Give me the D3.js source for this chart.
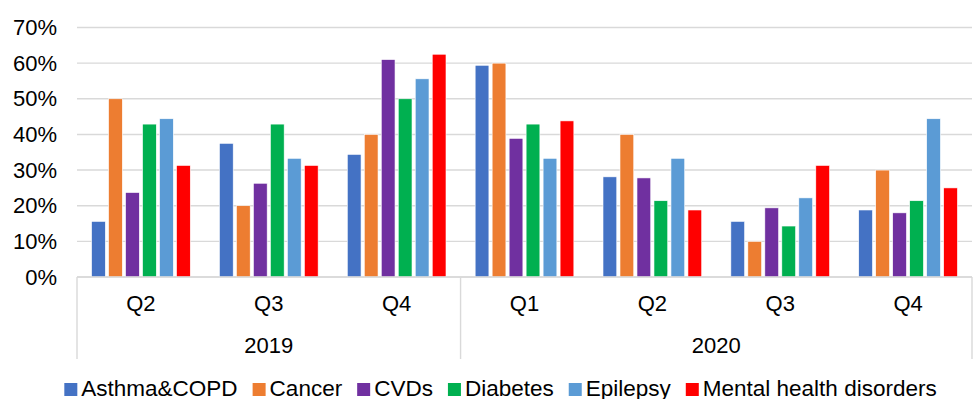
<!DOCTYPE html>
<html>
<head>
<meta charset="utf-8">
<script src="https://cdn.jsdelivr.net/npm/d3@7"></script>
<style>
  html, body { margin: 0; padding: 0; background: #fff; }
  svg { display: block; font-family: "Liberation Sans", Arial, sans-serif; }
</style>
</head>
<body>
<svg id="chart" width="974" height="399"></svg>
<script>
// Quarterly periods, grouped by year
const quarters = ["Q2", "Q3", "Q4", "Q1", "Q2", "Q3", "Q4"];
const periodYears = ["2019", "2019", "2019", "2020", "2020", "2020", "2020"];
const years = ["2019", "2020"];

// Share (%) per condition, one value per period
const seriesNames = ["Asthma&COPD", "Cancer", "CVDs", "Diabetes", "Epilepsy", "Mental health disorders"];
const asthmaCopd = [15.6, 37.5, 34.4, 59.4, 28.1, 15.6, 18.8];
const cancer     = [50.0, 20.0, 40.0, 60.0, 40.0, 10.0, 30.0];
const cvds       = [23.7, 26.3, 61.0, 38.9, 27.8, 19.4, 18.0];
const diabetes   = [42.9, 42.9, 50.0, 42.9, 21.4, 14.3, 21.4];
const epilepsy   = [44.4, 33.3, 55.6, 33.3, 33.3, 22.2, 44.4];
const mental     = [31.3, 31.3, 62.5, 43.8, 18.8, 31.3, 25.0];
const seriesValues = [asthmaCopd, cancer, cvds, diabetes, epilepsy, mental];
const seriesColors = ["#4472C4", "#ED7D31", "#7030A0", "#00B050", "#5B9BD5", "#FF0000"];

const yTicks = [0, 10, 20, 30, 40, 50, 60, 70];

const svg = d3.select("#chart");
const margin = { left: 77, right: 2, top: 27.5, bottom: 122 };
const W = 974, H = 399;
const plotLeft = margin.left, plotRight = W - margin.right;
const plotTop = margin.top, plotBottom = H - margin.bottom;
const axisBoxBottom = 359;
const gridColor = "#D9D9D9";

const periods = d3.range(quarters.length);

const x0 = d3.scaleBand()
  .domain(periods)
  .range([plotLeft, plotRight])
  .paddingInner(0.228)
  .paddingOuter(0.114);

const x1 = d3.scaleBand()
  .domain(d3.range(seriesNames.length))
  .range([0, x0.bandwidth()])
  .paddingInner(0.19);

const y = d3.scaleLinear()
  .domain([0, 70])
  .range([plotBottom, plotTop]);

// Horizontal gridlines
svg.append("g")
  .selectAll("line")
  .data(yTicks)
  .join("line")
  .attr("x1", plotLeft)
  .attr("x2", plotRight)
  .attr("y1", d => y(d))
  .attr("y2", d => y(d))
  .attr("stroke", gridColor)
  .attr("stroke-width", 1.4);

// Y axis labels
const yAxis = d3.axisLeft(y)
  .tickValues(yTicks)
  .tickFormat(d => d + "%")
  .tickSize(0)
  .tickPadding(20);

svg.append("g")
  .attr("transform", `translate(${plotLeft},0)`)
  .call(yAxis)
  .call(g => g.select(".domain").remove())
  .call(g => g.selectAll("text")
    .attr("font-size", 22)
    .attr("fill", "#000")
    .attr("font-family", "Liberation Sans, Arial, sans-serif"));

// Bars
const groups = svg.append("g")
  .selectAll("g")
  .data(periods)
  .join("g")
  .attr("transform", p => `translate(${x0(p)},0)`);

groups.selectAll("rect")
  .data(p => seriesValues.map((vals, s) => ({ s, v: vals[p] })))
  .join("rect")
  .attr("x", d => x1(d.s))
  .attr("width", x1.bandwidth())
  .attr("y", d => y(d.v))
  .attr("height", d => y(0) - y(d.v))
  .attr("fill", d => seriesColors[d.s])
  .attr("stroke", "#fff")
  .attr("stroke-width", 0.6);

// Category axis frame: baseline plus separators between years
const step = x0.step();
const axisG = svg.append("g").attr("stroke", gridColor).attr("stroke-width", 1.4);
axisG.append("line")
  .attr("x1", plotLeft).attr("x2", plotRight)
  .attr("y1", plotBottom).attr("y2", plotBottom);

const yearStarts = years.map(yr => periodYears.indexOf(yr));
const yearEnds = years.map(yr => periodYears.lastIndexOf(yr));
const boundaryX = p => plotLeft + step * p;
const separators = [boundaryX(0)].concat(yearEnds.map(e => boundaryX(e + 1)));
axisG.selectAll("line.sep")
  .data(separators)
  .join("line")
  .attr("class", "sep")
  .attr("x1", d => d).attr("x2", d => d)
  .attr("y1", plotBottom).attr("y2", axisBoxBottom);

// Quarter labels
svg.append("g")
  .selectAll("text")
  .data(periods)
  .join("text")
  .attr("x", p => x0(p) + x0.bandwidth() / 2)
  .attr("y", 311)
  .attr("text-anchor", "middle")
  .attr("font-size", 22)
  .attr("fill", "#000")
  .text(p => quarters[p]);

// Year labels
svg.append("g")
  .selectAll("text")
  .data(years)
  .join("text")
  .attr("x", (yr, i) => (boundaryX(yearStarts[i]) + boundaryX(yearEnds[i] + 1)) / 2)
  .attr("y", 353)
  .attr("text-anchor", "middle")
  .attr("font-size", 22)
  .attr("fill", "#000")
  .text(yr => yr);

// Legend
const legend = svg.append("g");
const sw = 13, textGap = 4, itemGap = 15;
let cursor = 0;
seriesNames.forEach((name, i) => {
  const item = legend.append("g").attr("transform", `translate(${cursor},0)`);
  item.append("rect")
    .attr("x", 0).attr("y", -12.5)
    .attr("width", sw).attr("height", sw)
    .attr("fill", seriesColors[i]);
  const t = item.append("text")
    .attr("x", sw + textGap)
    .attr("y", 0)
    .attr("font-size", 22.5)
    .attr("fill", "#000")
    .text(name);
  cursor += sw + textGap + t.node().getComputedTextLength() + itemGap;
});
const legendWidth = cursor - itemGap;
legend.attr("transform", `translate(${500.5 - legendWidth / 2},395.5)`);
</script>
</body>
</html>
